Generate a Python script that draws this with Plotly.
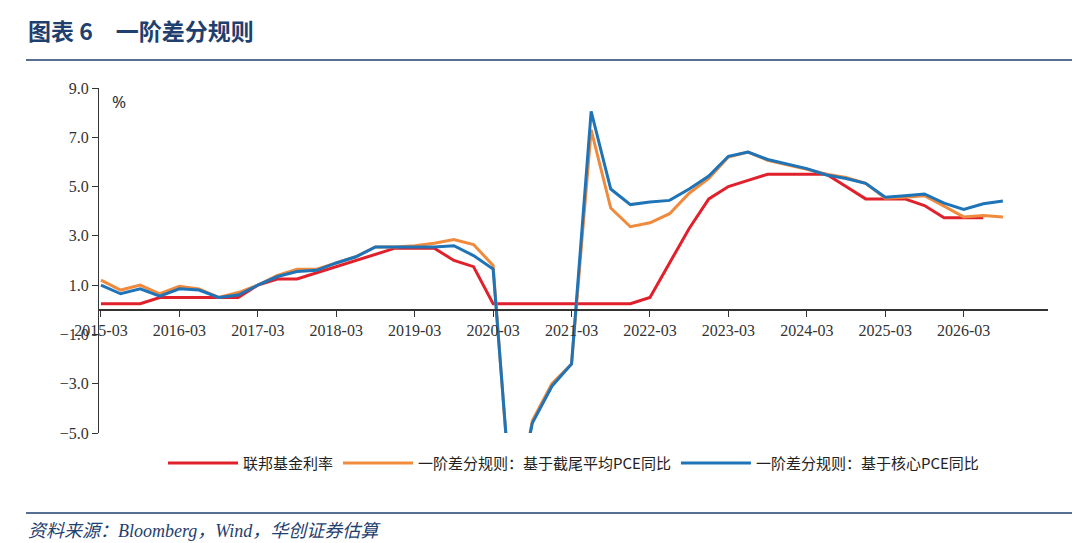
import plotly.graph_objects as go

quarters = [f"{y}-{m:02d}" for y in range(2015, 2027) for m in (3, 6, 9, 12)][:47]

fed_funds = [0.25, 0.25, 0.25, 0.5, 0.5, 0.5, 0.5, 0.5,
             1.0, 1.25, 1.25, 1.5, 1.75, 2.0, 2.25, 2.5,
             2.5, 2.5, 2.0, 1.75, 0.25, 0.25, 0.25, 0.25,
             0.25, 0.25, 0.25, 0.25, 0.5, 1.9, 3.3, 4.5,
             5.0, 5.25, 5.5, 5.5, 5.5, 5.5, 5.0, 4.5,
             4.5, 4.5, 4.23, 3.73, 3.73, 3.73, None]
trimmed_rule = [1.2, 0.8, 1.0, 0.65, 0.95, 0.85, 0.5, 0.7,
                1.0, 1.4, 1.65, 1.65, 1.9, 2.15, 2.55, 2.55,
                2.6, 2.7, 2.85, 2.65, 1.8, -8.8, -4.5, -3.0,
                -2.2, 7.3, 4.13, 3.37, 3.53, 3.9, 4.73, 5.33,
                6.2, 6.4, 6.07, 5.9, 5.7, 5.5, 5.37, 5.13,
                4.53, 4.57, 4.63, 4.2, 3.77, 3.83, 3.77]
core_rule = [1.0, 0.65, 0.85, 0.55, 0.85, 0.8, 0.5, 0.6,
             1.0, 1.35, 1.55, 1.6, 1.9, 2.15, 2.55, 2.55,
             2.55, 2.55, 2.6, 2.2, 1.65, -8.6, -4.6, -3.1,
             -2.2, 8.05, 4.9, 4.27, 4.37, 4.44, 4.9, 5.43,
             6.23, 6.4, 6.1, 5.9, 5.73, 5.47, 5.33, 5.13,
             4.57, 4.63, 4.7, 4.33, 4.07, 4.3, 4.41]

names = ["联邦基金利率", "一阶差分规则：基于截尾平均PCE同比", "一阶差分规则：基于核心PCE同比"]
colors = ["#E0202B", "#F08A3C", "#1F74B8"]

fig = go.Figure()
for name, vals, c in zip(names, [fed_funds, trimmed_rule, core_rule], colors):
    fig.add_trace(go.Scatter(x=quarters, y=vals, name=name, mode="lines",
                             line=dict(color=c, width=3)))

fig.update_layout(
    width=1080, height=543,
    paper_bgcolor="white", plot_bgcolor="white",
    margin=dict(l=91, r=40, t=80, b=118),
    font=dict(family="Liberation Serif, Noto Sans CJK SC", size=16, color="#333"),
    showlegend=True,
    legend=dict(orientation="h", x=0.5, xanchor="center", y=-0.04, yanchor="top",
                font=dict(family="Noto Sans CJK SC", size=15, color="#222"),
                itemwidth=70),
    xaxis=dict(type="category", tickvals=quarters[::4], anchor="free", position=5 / 14,
               showline=True, linecolor="#333", linewidth=1.5, ticks="outside",
               ticklen=6, tickcolor="#333", showgrid=False, range=[-0.1, 48.3]),
    yaxis=dict(range=[-5, 9], tickvals=[-5, -3, -1, 1, 3, 5, 7, 9], tickformat=".1f",
               showline=True, linecolor="#333", linewidth=1, ticks="outside",
               ticklen=6, tickcolor="#333", showgrid=False, zeroline=False),
)

fig.add_annotation(x=0.012, y=1.0, xref="paper", yref="paper", text="%", showarrow=False,
                   xanchor="left", yanchor="top", font=dict(size=17, family="Noto Sans"))
fig.add_annotation(x=(18 - 91) / 949, y=1 + (80 - 22) / 345, xref="paper", yref="paper",
                   text="<b>图表 6　一阶差分规则</b>", showarrow=False, xanchor="left",
                   yanchor="middle", font=dict(size=23, color="#1F3F6E",
                                               family="Noto Sans CJK SC"))
fig.add_annotation(x=(18 - 91) / 949, y=-(523 - 425) / 345, xref="paper", yref="paper",
                   text="<i>资料来源：Bloomberg，Wind，华创证券估算</i>", showarrow=False,
                   xanchor="left", yanchor="middle",
                   font=dict(size=18, color="#1F3F6E", family="Liberation Serif, Noto Sans CJK SC"))
for y in (1 + 28 / 345, -80 / 345):
    fig.add_shape(type="line", xref="paper", yref="paper",
                  x0=(18 - 91) / 949, x1=(1068 - 91) / 949, y0=y, y1=y,
                  line=dict(color="#1F3F6E", width=1.5))

fig.write_html("out.html")
